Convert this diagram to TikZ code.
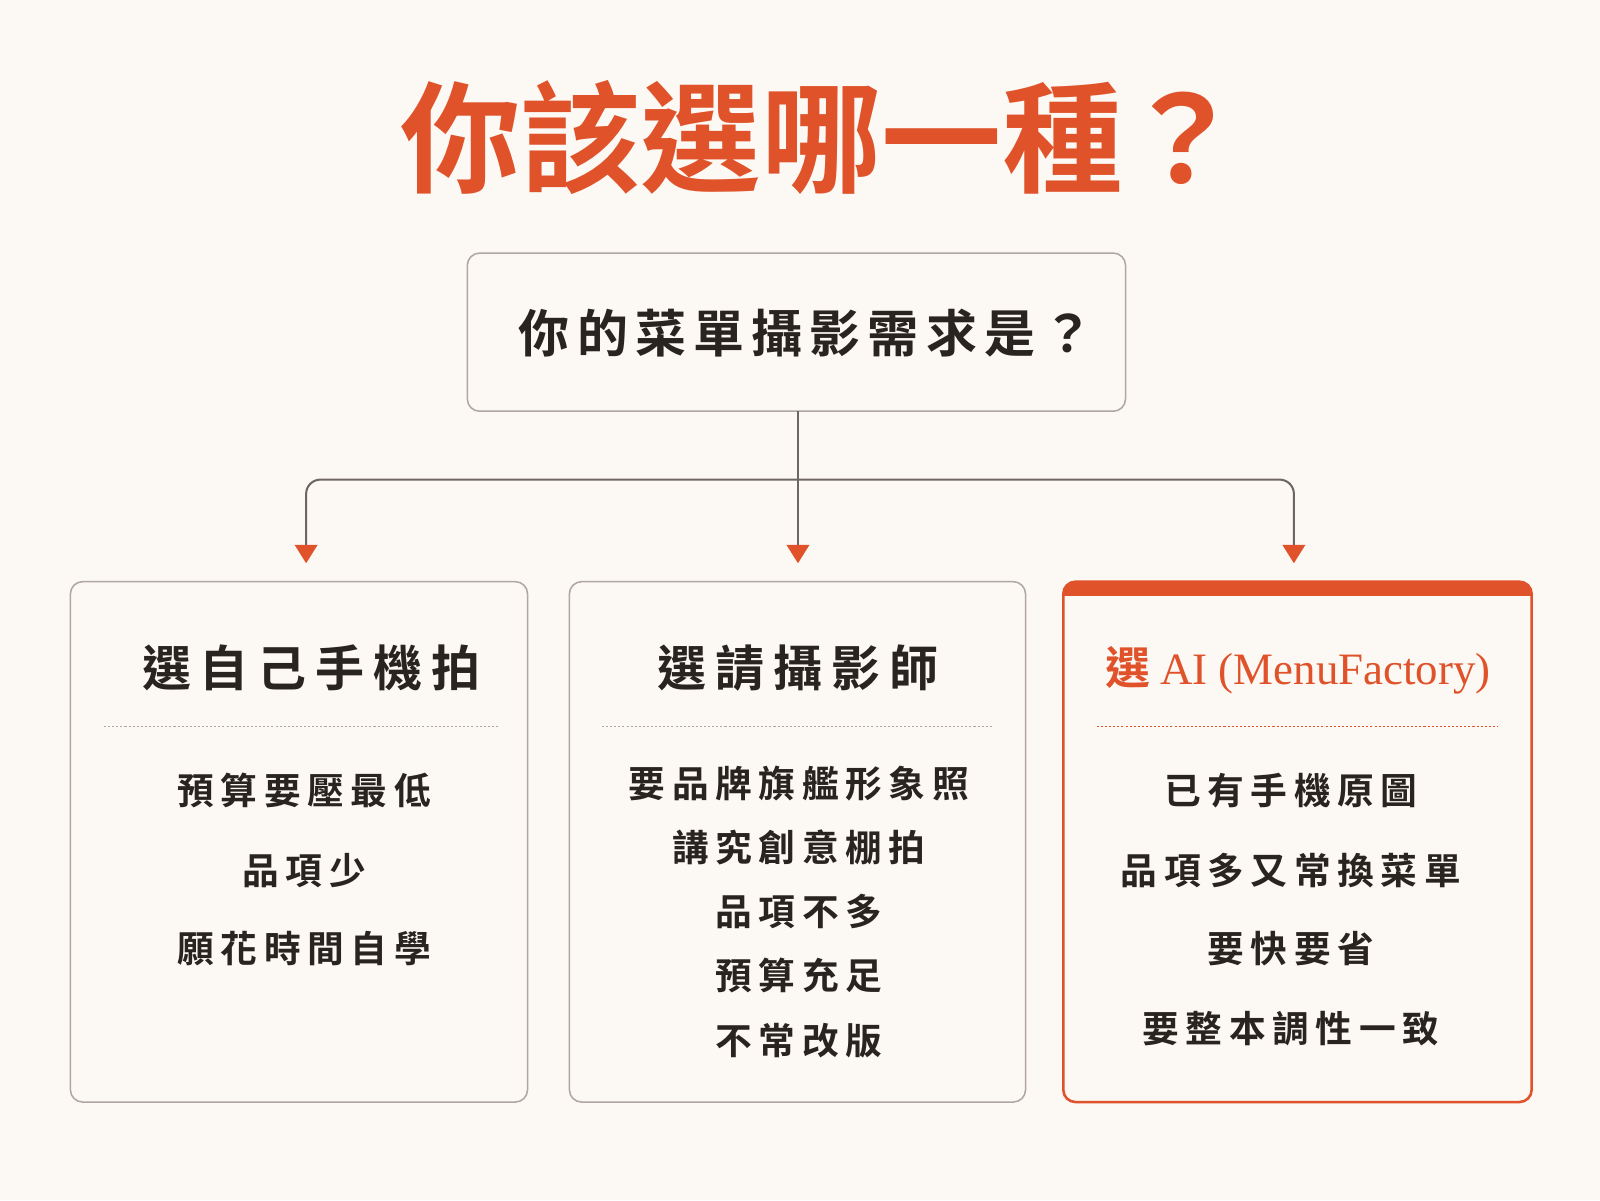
\documentclass[tikz,border=0pt]{standalone}
\usepackage{fontspec}
\setmainfont{Noto Sans CJK TC}[BoldFont={Noto Sans CJK TC Bold}]
\newfontfamily\spaced{Noto Sans CJK TC Bold}[LetterSpace=18]
\newfontfamily\spacedq{Noto Sans CJK TC Bold}[LetterSpace=14]
\usetikzlibrary{arrows.meta}
\definecolor{bg}{HTML}{FCF8F3}
\definecolor{org}{HTML}{E0522A}
\definecolor{ink}{HTML}{2A2420}
\definecolor{gr}{HTML}{B0A8A0}
\definecolor{ln}{HTML}{6E6660}
\begin{document}
\begin{tikzpicture}[x=1pt,y=-1pt,
 box/.style={draw=gr,line width=1.5pt,rounded corners=12pt,fill=bg},
 ttl/.style={font=\fontsize{48}{54}\selectfont\spaced,text=ink},
 itm/.style={font=\fontsize{36}{40}\selectfont\spaced,text=ink},
 conn/.style={draw=ln,line width=2pt},
 arr/.style={-{Triangle[width=22pt,length=18pt,color=org]},conn},
 dot/.style={draw=gr,line width=1.2pt,dash pattern=on 2pt off 2pt}]
\fill[bg] (0,0) rectangle (1568,1176);
\useasboundingbox (0,0) rectangle (1568,1176);
\node[font=\fontsize{118}{125}\selectfont\bfseries,text=org] (title) at (805,135) {你該選哪一種？};
\draw[box] (458,248) rectangle (1103,403);
\node[font=\fontsize{50}{56}\selectfont\spacedq,text=ink] (q) at (790,326) {你的菜單攝影需求是？};
\coordinate (qb) at (782,403);
\coordinate (j) at (782,470);
\coordinate (a1) at (300,552);\coordinate (a2) at (782,552);\coordinate (a3) at (1268,552);
\draw[arr] (qb) -- (a2);
\draw[arr,rounded corners=14pt] (j) -| (a1);
\draw[arr,rounded corners=14pt] (j) -| (a3);
\draw[box] (69,570) rectangle (517,1080);
\draw[box] (558,570) rectangle (1005,1080);
\draw[box,draw=org,line width=2.5pt] (1042,570) rectangle (1501,1080);
\begin{scope}
\clip[rounded corners=12pt] (1042,570) rectangle (1501,1080);
\fill[org] (1042,568) rectangle (1501,584);
\end{scope}
\node[ttl] (t1) at (305,655) {選自己手機拍};
\node[ttl] (t2) at (782,655) {選請攝影師};
\node[text=org,font=\fontsize{44}{50}\selectfont\bfseries] (t3) at (1272,657) {選 {\fontspec{Liberation Serif}\mdseries AI (MenuFactory)}};
\draw[dot] (102,712) -- (488,712);
\draw[dot] (590,712) -- (972,712);
\draw[dot,draw=org] (1075,712) -- (1468,712);
\node[itm] (l1) at (298,775) {預算要壓最低};
\node[itm] (l2) at (298,853) {品項少};
\node[itm] (l3) at (298,930) {願花時間自學};
\node[itm] (m1) at (783,768) {要品牌旗艦形象照};
\node[itm] (m2) at (783,830) {講究創意棚拍};
\node[itm] (m3) at (783,893) {品項不多};
\node[itm] (m4) at (783,956) {預算充足};
\node[itm] (m5) at (783,1020) {不常改版};
\node[itm] (r1) at (1265,775) {已有手機原圖};
\node[itm] (r2) at (1265,853) {品項多又常換菜單};
\node[itm] (r3) at (1265,930) {要快要省};
\node[itm] (r4) at (1265,1008) {要整本調性一致};
\end{tikzpicture}
\end{document}
